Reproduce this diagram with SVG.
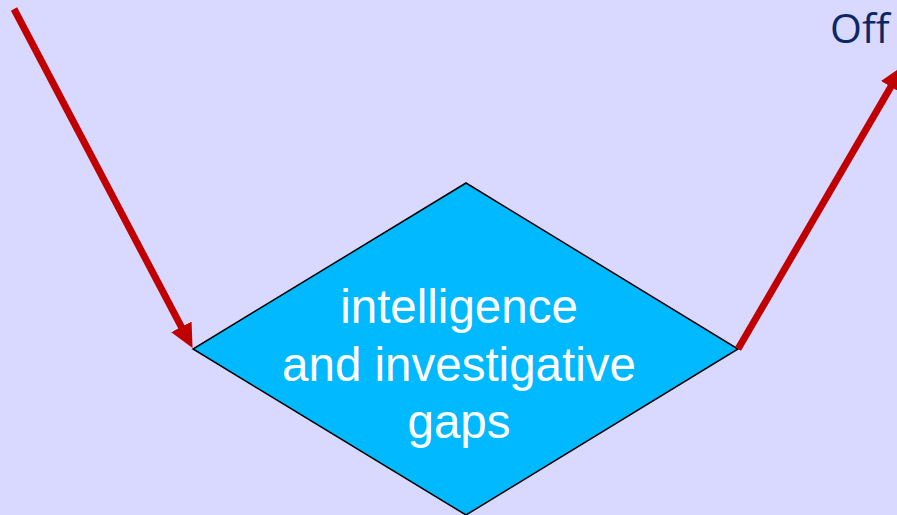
<svg xmlns="http://www.w3.org/2000/svg" width="897" height="515" viewBox="0 0 897 515">
  <style>
    .conn { stroke: #C00000; stroke-width: 7; fill: none; }
    .node { fill: #00B9FF; stroke: #000000; stroke-width: 1.5; }
    .label { font-family: "Liberation Sans", Arial, sans-serif; font-size: 47.5px; fill: #FFFFFF; text-anchor: middle; }
    .title { font-family: "Open Sans", "Liberation Sans", sans-serif; font-size: 41px; fill: #0B2766; }
  </style>
  <defs>
    <marker id="head" markerUnits="userSpaceOnUse" viewBox="0 0 24 23" markerWidth="24" markerHeight="23" refX="11" refY="11.5" orient="auto">
      <path d="M0,0 L24,11.5 L0,23 z" fill="#C00000"/>
    </marker>
  </defs>
  <rect width="897" height="515" fill="#D9D9FF"/>
  <g id="title">
    <text class="title" x="830" y="43">Off</text>
  </g>
  <g id="gaps">
    <polygon class="node" points="466,183 738,349 466,515 193,349"/>
    <text class="label" x="459" y="323">intelligence</text>
    <text class="label" x="459" y="381">and investigative</text>
    <text class="label" x="459" y="438">gaps</text>
  </g>
  <g id="connectors">
    <line class="conn" x1="14" y1="9" x2="186.5" y2="336.6" marker-end="url(#head)"/>
    <line class="conn" x1="738" y1="349" x2="896.4" y2="77.3" marker-end="url(#head)"/>
  </g>
</svg>
